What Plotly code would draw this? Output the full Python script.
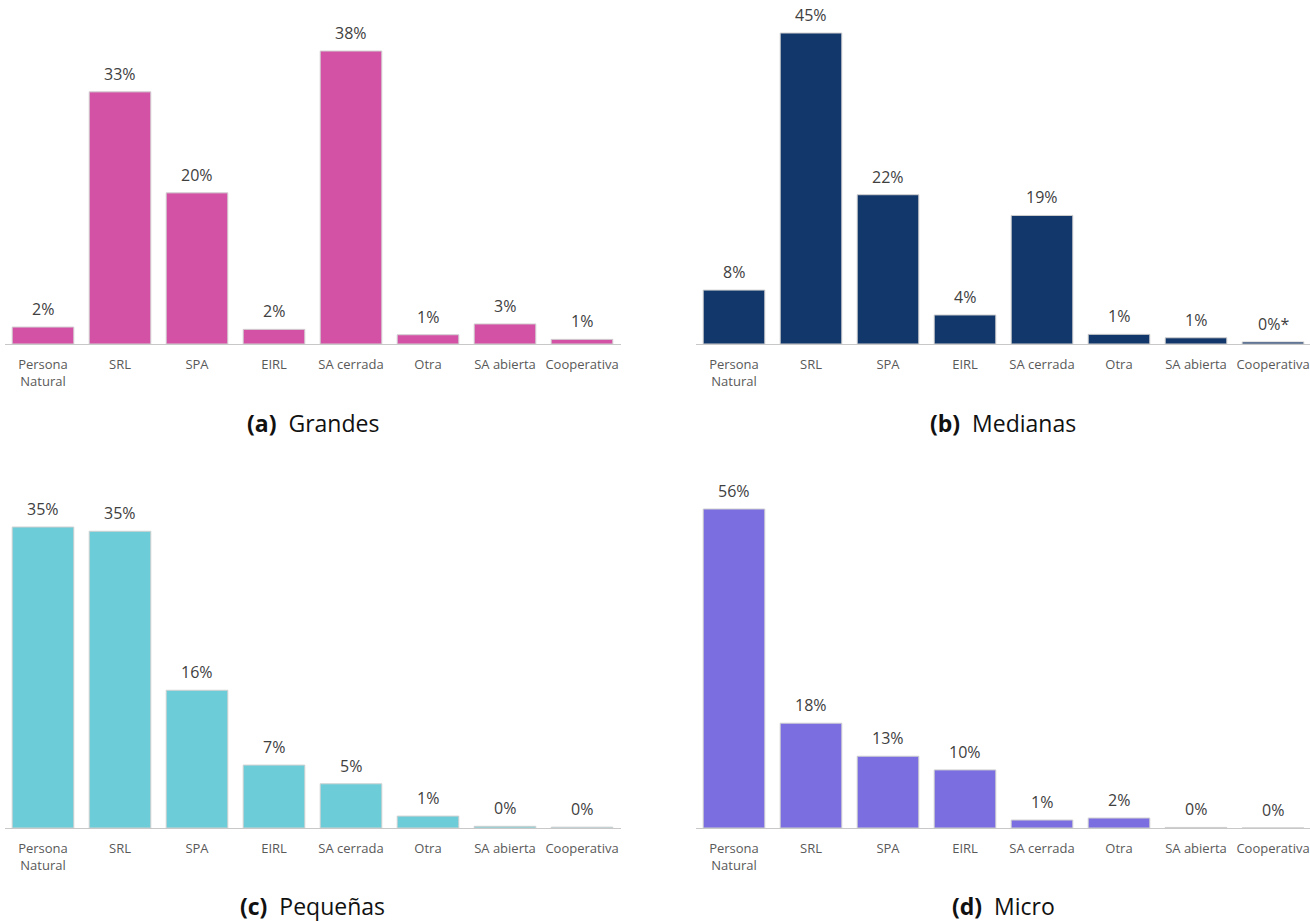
import plotly.graph_objects as go

# Legal forms of firms, share (%) by firm size
categorias = ["Persona<br>Natural", "SRL", "SPA", "EIRL", "SA cerrada", "Otra", "SA abierta", "Cooperativa"]

grandes = [2.2, 32.7, 19.6, 1.9, 38.0, 1.2, 2.6, 0.6]
medianas = [7.8, 45.0, 21.6, 4.2, 18.6, 1.4, 0.9, 0.3]
pequenas = [35.4, 34.9, 16.2, 7.4, 5.2, 1.4, 0.2, 0.1]
micro = [56.0, 18.4, 12.6, 10.2, 1.4, 1.75, 0.1, 0.02]

# footnote marks appended to individual value labels
notas_medianas = ["", "", "", "", "", "", "", "*"]

titulos = ["<b>(a)</b>  Grandes", "<b>(b)</b>  Medianas", "<b>(c)</b>  Pequeñas", "<b>(d)</b>  Micro"]
colores = ["#D452A6", "#12376A", "#6CCDD9", "#7B6EE0"]

W, H = 1310, 922
FONT = "Open Sans"


def etiquetas(valores, notas=None):
    notas = notas or [""] * len(valores)
    return [f"{int(round(v))}%{n}" for v, n in zip(valores, notas)]


paneles = [
    # values, notes, x pixel span, y pixel span (top, bottom), y max
    (grandes, None, (4.5, 620.5), (20, 344), 324 / (293 / 38.0)),
    (medianas, notas_medianas, (695.5, 1310), (20, 344), 324 / (311 / 45.0)),
    (pequenas, None, (4.5, 620.5), (500, 828), 328 / (301 / 35.4)),
    (micro, None, (695.5, 1310), (500, 828), 328 / (319 / 56.0)),
]

fig = go.Figure()
layout = {}
anotaciones = []
for i, (vals, notas, (x0, x1), (ytop, ybot), ymax) in enumerate(paneles):
    n = "" if i == 0 else str(i + 1)
    fig.add_trace(go.Bar(
        x=categorias, y=vals,
        marker=dict(color=colores[i], line=dict(color="#D0D0D0", width=1)),
        cliponaxis=False,
        xaxis="x" + n, yaxis="y" + n,
        showlegend=False,
    ))
    # value labels above each bar
    for cat, v, lab in zip(categorias, vals, etiquetas(vals, notas)):
        anotaciones.append(dict(
            text=lab, x=cat, y=v, xref="x" + n, yref="y" + n,
            xanchor="center", yanchor="bottom", yshift=5, showarrow=False,
            font=dict(family=FONT, size=16, color="#404040"),
        ))
    xr_end = 7.5 - (x0 + 8 * 77 - x1) / 77 if x0 + 8 * 77 > x1 else 7.5
    layout["xaxis" + n] = dict(
        domain=[x0 / W, min(x1, W) / W],
        anchor="y" + n,
        type="category",
        range=[-0.5, xr_end],
        showline=True, linecolor="#C8C8C8", linewidth=1,
        ticks="outside", ticklen=8, tickcolor="rgba(0,0,0,0)",
        tickfont=dict(family=FONT, size=13, color="#595959"),
        showgrid=False, zeroline=False, fixedrange=True,
    )
    layout["yaxis" + n] = dict(
        domain=[1 - ybot / H, 1 - ytop / H],
        anchor="x" + n,
        range=[0, ymax],
        visible=False, showgrid=False, zeroline=False, fixedrange=True,
    )

    # panel caption under the axis
    cx = (x0 + x0 + 8 * 77) / 2 / W
    cy = 1 - (423 if ybot < 500 else 906) / H
    anotaciones.append(dict(
        text=titulos[i], x=cx, y=cy, xref="paper", yref="paper",
        xanchor="center", yanchor="middle", showarrow=False,
        font=dict(family=FONT, size=23, color="#111111"),
    ))

fig.update_layout(
    width=W, height=H,
    margin=dict(l=0, r=0, t=0, b=0),
    paper_bgcolor="white", plot_bgcolor="white",
    bargap=0.2,
    annotations=anotaciones,
    **layout,
)

fig.write_html("out.html")
